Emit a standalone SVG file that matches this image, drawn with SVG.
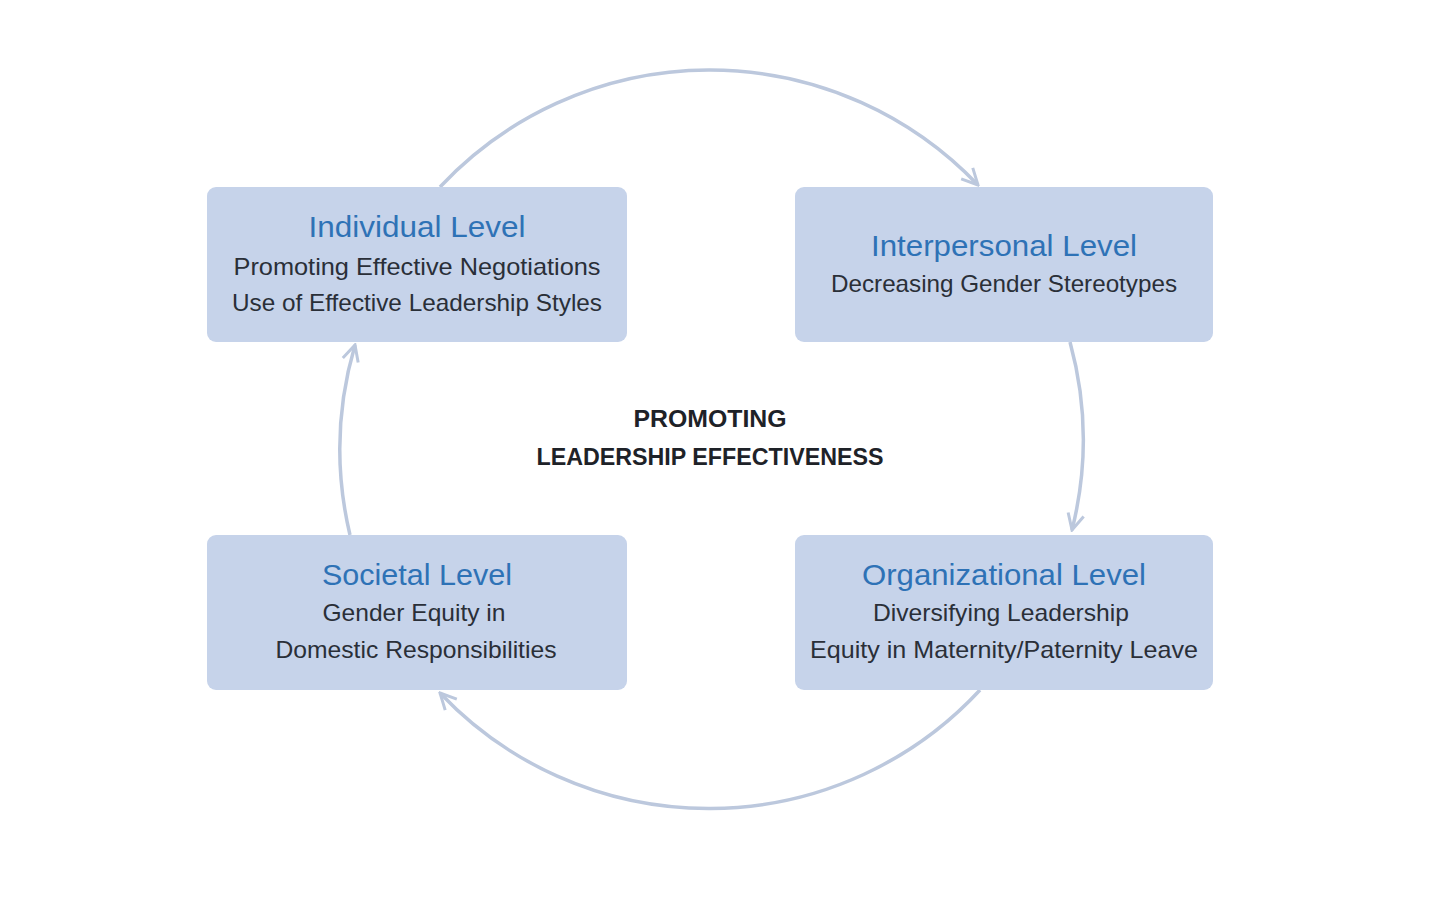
<svg xmlns="http://www.w3.org/2000/svg" width="1440" height="901" viewBox="0 0 1440 901">
<style>
.box{fill:#c6d3ea}
.t{font-family:"Liberation Sans",Arial,sans-serif;font-size:29px;fill:#2e72b6;text-anchor:middle}
.b{font-family:"Liberation Sans",Arial,sans-serif;font-size:24px;fill:#2a2f38;text-anchor:middle}
.c{font-family:"Liberation Sans",Arial,sans-serif;font-size:24px;font-weight:bold;fill:#1e2228;text-anchor:middle}
.arc{fill:none;stroke:#bcc8dd;stroke-width:3.5}
</style>
<defs>
<marker id="ah" viewBox="0 0 20 20" refX="18" refY="10" markerWidth="20" markerHeight="20" markerUnits="userSpaceOnUse" orient="auto">
<path d="M2,2 L18,10 L2,18" fill="none" stroke="#bcc8dd" stroke-width="3"/>
</marker>
</defs>
<rect width="1440" height="901" fill="#fff"/>
<g id="connectors">
<path class="arc" d="M440,187 A370,370 0 0 1 978,185" marker-end="url(#ah)"/>
<path class="arc" d="M1070,342 A370,370 0 0 1 1072,530" marker-end="url(#ah)"/>
<path class="arc" d="M980,690 A370,370 0 0 1 440,693" marker-end="url(#ah)"/>
<path class="arc" d="M350,535 A370,370 0 0 1 355,345" marker-end="url(#ah)"/>
</g>
<g id="individual">
<rect class="box" x="207" y="187" width="420" height="155" rx="9"/>
<text class="t" x="417" y="237" textLength="217" lengthAdjust="spacingAndGlyphs">Individual Level</text>
<text class="b" x="417" y="275" textLength="367" lengthAdjust="spacingAndGlyphs">Promoting Effective Negotiations</text>
<text class="b" x="417" y="311" textLength="370" lengthAdjust="spacingAndGlyphs">Use of Effective Leadership Styles</text>
</g>
<g id="interpersonal">
<rect class="box" x="795" y="187" width="418" height="155" rx="9"/>
<text class="t" x="1004" y="256" textLength="266" lengthAdjust="spacingAndGlyphs">Interpersonal Level</text>
<text class="b" x="1004" y="292" textLength="346" lengthAdjust="spacingAndGlyphs">Decreasing Gender Stereotypes</text>
</g>
<g id="societal">
<rect class="box" x="207" y="535" width="420" height="155" rx="9"/>
<text class="t" x="417" y="585" textLength="190" lengthAdjust="spacingAndGlyphs">Societal Level</text>
<text class="b" x="414" y="621" textLength="183" lengthAdjust="spacingAndGlyphs">Gender Equity in</text>
<text class="b" x="416" y="658" textLength="281" lengthAdjust="spacingAndGlyphs">Domestic Responsibilities</text>
</g>
<g id="organizational">
<rect class="box" x="795" y="535" width="418" height="155" rx="9"/>
<text class="t" x="1004" y="585" textLength="284" lengthAdjust="spacingAndGlyphs">Organizational Level</text>
<text class="b" x="1001" y="621" textLength="256" lengthAdjust="spacingAndGlyphs">Diversifying Leadership</text>
<text class="b" x="1004" y="658" textLength="388" lengthAdjust="spacingAndGlyphs">Equity in Maternity/Paternity Leave</text>
</g>
<g id="center">
<text class="c" x="710" y="427" textLength="153" lengthAdjust="spacingAndGlyphs">PROMOTING</text>
<text class="c" x="710" y="465" textLength="347" lengthAdjust="spacingAndGlyphs">LEADERSHIP EFFECTIVENESS</text>
</g>
</svg>
